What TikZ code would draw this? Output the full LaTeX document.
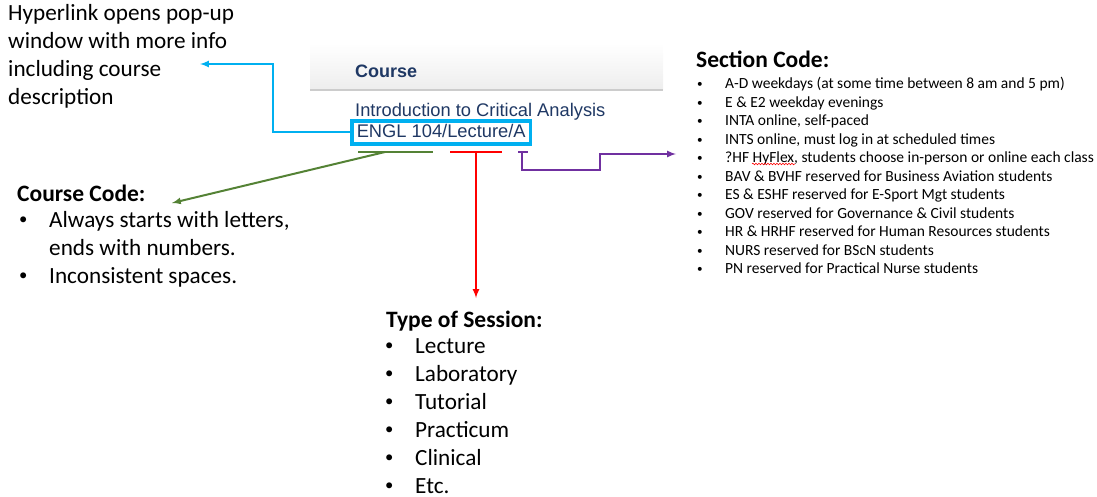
\documentclass[tikz,border=0pt]{standalone}
\usepackage{fontspec}
\usepackage{graphicx}
\setmainfont{Carlito}
\newfontfamily\uifont{Liberation Sans}
\usetikzlibrary{decorations.pathmorphing}

\definecolor{linkcyan}{HTML}{00B0F0}
\definecolor{codegreen}{HTML}{548235}
\definecolor{sessred}{HTML}{FF0000}
\definecolor{secpurple}{HTML}{7030A0}
\definecolor{uinavy}{HTML}{1F3864}

% smaller bullet, lifted back onto the x-height
\newcommand\itemdot{\raisebox{0.09em}{\scalebox{0.72}{\textbullet}}}

\begin{document}
\begin{tikzpicture}[x=1pt, y=-1pt,
                    note/.style={inner sep=0pt, anchor=base west, font=\fontsize{23.2}{28}\selectfont},
                    small/.style={inner sep=0pt, anchor=base west, font=\fontsize{15.5}{18.5}\selectfont},
                    head/.style={inner sep=0pt, anchor=base west, font=\bfseries\fontsize{23.5}{28}\selectfont},
                    ui/.style={inner sep=0pt, anchor=base west, text=uinavy, font=\uifont\fontsize{18.3}{22}\selectfont},
                    bar/.style={line width=2.7pt},
                    link/.style={-latex, line width=2pt}]
                    \useasboundingbox (0,0) rectangle (1097,497);

                    % the grid column header
                    \shade[top color=white, bottom color=gray!14] (310,43) rectangle (663,90);
                    \draw[gray!40, line width=1.5pt] (310,90) -- (663,90);
                    \node[ui, font=\uifont\bfseries\fontsize{18}{22}\selectfont] (colhead) at (355,78) {Course};
                    \node[ui] (title) at (355,117) {Introduction to Critical Analysis};
                    \node[ui, draw=linkcyan, line width=3.5pt,
                          inner xsep=5pt, inner ysep=4pt, text height=13pt, text depth=2pt] (code) at (350,138) {ENGL 104/Lecture/A};

                    % hyperlink note
                    \node[note] (hyper) at (8,21) {\begin{tabular}[t]{@{}l@{}}
                        Hyperlink opens pop-up\\ window with more info\\ including course\\ description
                    \end{tabular}};
                    \coordinate (hypertip) at (200,64);
                    \draw[link, linkcyan] (code.west) -- ++(-77,0) |- (hypertip);

                    % course code
                    \node[head] (codehead) at (17,202) {Course Code:};
                    \node[note] (codelist) at (19,227) {\begin{tabular}[t]{@{}p{30pt}@{}l@{}}
                        \itemdot & Always starts with letters,\\
                                 & ends with numbers.\\
                        \itemdot & Inconsistent spaces.
                    \end{tabular}};
                    \coordinate (codemid) at (385,152);
                    \coordinate (codetip) at (172,203);
                    \draw[bar, codegreen] (358,152) -- (433,152);
                    \draw[link, codegreen] (codemid) -- (codetip);

                    % type of session
                    \node[head] (sesshead) at (386,327) {Type of Session:};
                    \node[note] (sesslist) at (385,353) {\begin{tabular}[t]{@{}p{30pt}@{}l@{}}
                        \itemdot & Lecture\\
                        \itemdot & Laboratory\\
                        \itemdot & Tutorial\\
                        \itemdot & Practicum\\
                        \itemdot & Clinical\\
                        \itemdot & Etc.
                    \end{tabular}};
                    \coordinate (sessmid) at (476,152);
                    \coordinate (sesstip) at (476,298);
                    \draw[bar, sessred] (450,152) -- (502,152);
                    \draw[link, sessred] (sessmid) -- (sesstip);

                    % section code
                    \node[head] (sechead) at (696,68) {Section Code:};
                    \node[small] (seclist) at (697,89) {\begin{tabular}[t]{@{}p{28pt}@{}l@{}}
                        \itemdot & A-D weekdays (at some time between 8 am and 5 pm)\\
                        \itemdot & E \& E2 weekday evenings\\
                        \itemdot & INTA online, self-paced\\
                        \itemdot & INTS online, must log in at scheduled times\\
                        \itemdot & ?HF HyFlex, students choose in-person or online each class\\
                        \itemdot & BAV \& BVHF reserved for Business Aviation students\\
                        \itemdot & ES \& ESHF reserved for E-Sport Mgt students\\
                        \itemdot & GOV reserved for Governance \& Civil students\\
                        \itemdot & HR \& HRHF reserved for Human Resources students\\
                        \itemdot & NURS reserved for BScN students\\
                        \itemdot & PN reserved for Practical Nurse students
                    \end{tabular}};
                    \draw[sessred, line width=0.6pt, decorate, decoration={snake, amplitude=0.8pt, segment length=3pt}]
                        (752,164) -- (795,164);
                    \coordinate (secbend) at (522,170);
                    \coordinate (sectip) at (676,154);
                    \draw[bar, secpurple] (518,152) -- (528,152);
                    \draw[link, secpurple] (522,152) -- (secbend) -- (600,170) -- (600,154) -- (sectip);

                \end{tikzpicture}
\end{document}
